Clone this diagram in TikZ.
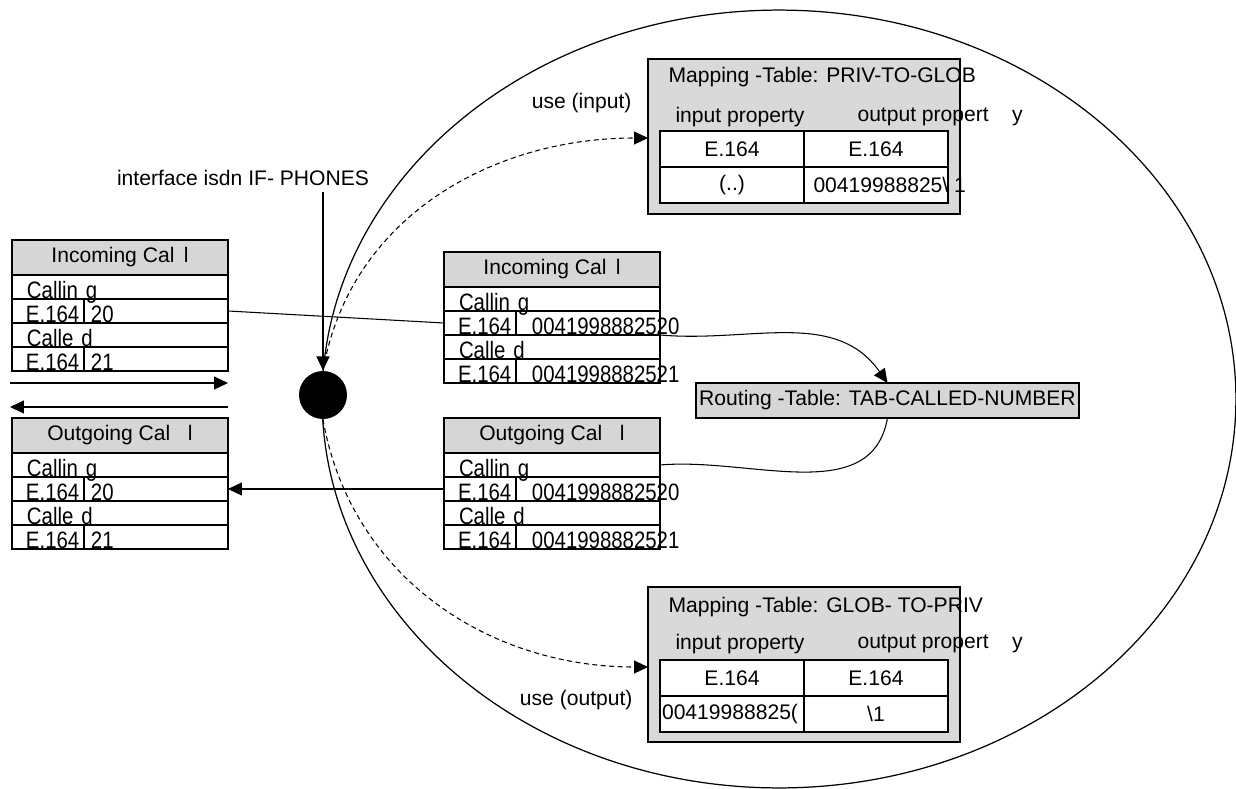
\documentclass[tikz,border=0pt]{standalone}
\usepackage{fontspec}
\setmainfont{Liberation Sans}
\newfontfamily\condfont[FakeStretch=0.86]{Liberation Sans}
\usetikzlibrary{arrows.meta, positioning, calc}

\tikzset{
  hdcell/.style={draw, fill=gray!32, line width=0.8pt, minimum width=4.32cm, minimum height=0.7cm,
    inner sep=0pt, outer sep=0pt},
  rowcell/.style={draw, line width=0.8pt, text width=3.72cm, inner xsep=0.3cm, inner ysep=0pt, outer sep=0pt,
    text height=0.48cm, text depth=0pt, align=left, font=\condfont\fontsize{13.5}{15}\selectfont},
  keycell/.style={rowcell, text width=0.88cm, inner xsep=0.28cm},
  valcell/.style={rowcell, text width=2.88cm, inner xsep=0pt},
  mapbox/.style={draw, fill=gray!30, line width=0.8pt, minimum width=6.24cm, minimum height=3.1cm,
    inner sep=0pt, outer sep=0pt},
  mapcell/.style={draw, fill=white, line width=0.8pt, minimum width=2.88cm, minimum height=0.72cm,
    inner sep=0pt, outer sep=0pt},
  arr/.style={-{Triangle[length=0.28cm, width=0.26cm]}},
  usearrow/.style={arr, dash pattern=on 0.1cm off 0.07cm}
}

% one call table: name, north west corner, title, calling no., called no., value indent
\newcommand{\calltable}[6]{%
  \node[hdcell, anchor=north west] (#1-hd) at #2 {#3};
  \node[rowcell, below=0pt of #1-hd] (#1-r1) {Callin g};
  \node[keycell, anchor=north west] (#1-k2) at (#1-r1.south west) {E.164};
  \node[valcell, right=0pt of #1-k2] (#1-v2) {\hspace*{#6}#4};
  \node[rowcell, anchor=north west] (#1-r3) at (#1-k2.south west) {Calle d};
  \node[keycell, anchor=north west] (#1-k4) at (#1-r3.south west) {E.164};
  \node[valcell, right=0pt of #1-k4] (#1-v4) {\hspace*{#6}#5};
}

\begin{document}
\begin{tikzpicture}[x=0.02cm, y=-0.02cm, font=\fontsize{12}{14}\selectfont, line width=0.6pt]
  \useasboundingbox (0,0) rectangle (1236,788);

  % interface area
  \draw[line width=0.7pt] (779,399) ellipse [x radius=9.14cm, y radius=7.78cm];

  \node (ifname) at (243,178) {interface isdn IF- PHONES};
  \node[circle, fill=black, minimum size=0.96cm, inner sep=0pt] (port) at (323,395) {};
  \draw[arr] (ifname.south -| port.north) -- (port.north);

  % calls on the line and after mapping
  \calltable{inL}{(12,240)}{Incoming Cal\ \,l}{20}{21}{0.14cm}
  \calltable{outL}{(12,418)}{Outgoing Cal\ \ \ l}{20}{21}{0.14cm}
  \calltable{inM}{(444,252)}{Incoming Cal\ \,l}{0041998882520}{0041998882521}{0.32cm}
  \calltable{outM}{(444,418)}{Outgoing Cal\ \ \ l}{0041998882520}{0041998882521}{0.32cm}

  \coordinate (dir-in-a) at (10,383);
  \coordinate (dir-in-b) at (228,383);
  \coordinate (dir-out-a) at (228,407);
  \coordinate (dir-out-b) at (10,407);
  \draw[arr] (dir-in-a) -- (dir-in-b);
  \draw[arr] (dir-out-a) -- (dir-out-b);

  \node[draw, fill=gray!32, line width=0.8pt, anchor=north west, minimum width=7.66cm, minimum height=0.7cm,
    inner xsep=1pt, outer sep=0pt] (route) at (696,383) {Routing -Table: TAB-CALLED-NUMBER};

  % mapping PRIV-TO-GLOB
  \node[mapbox, anchor=north west] (mapP) at (648,59) {};
  \node[anchor=west, inner xsep=0pt] (mapP-name) at (668,77) {Mapping -Table: PRIV-TO-GLOB};
  \node (mapP-inp) at (740,117) {input property};
  \node[anchor=west, inner xsep=0pt] (mapP-outp) at (857,117) {output propert\ \ \ \ y};
  \node[mapcell, anchor=north west] (mapP-k1) at (660,131) {E.164};
  \node[mapcell, right=0pt of mapP-k1] (mapP-v1) {E.164};
  \node[mapcell, below=0pt of mapP-k1] (mapP-k2) {(..)};
  \node[mapcell, below=0pt of mapP-v1] (mapP-v2) {};
  \node[anchor=west, inner xsep=0pt] (mapP-rule) at ([xshift=0.18cm]mapP-v2.west) {00419988825\textbackslash\ 1};
  \node[anchor=east, inner xsep=0pt] (useP) at (632,103) {use (input)};
  \coordinate (mapP-hook) at ($(mapP.north west)+(0,79)$);

  % mapping GLOB-TO-PRIV
  \node[mapbox, anchor=north west] (mapG) at (648,587) {};
  \node[anchor=west, inner xsep=0pt] (mapG-name) at (668,607) {Mapping -Table: GLOB- TO-PRIV};
  \node (mapG-inp) at (740,644) {input property};
  \node[anchor=west, inner xsep=0pt] (mapG-outp) at (857,644) {output propert\ \ \ \ y};
  \node[mapcell, anchor=north west] (mapG-k1) at (660,660) {E.164};
  \node[mapcell, right=0pt of mapG-k1] (mapG-v1) {E.164};
  \node[mapcell, below=0pt of mapG-k1] (mapG-k2) {};
  \node[anchor=west, inner xsep=0pt] (mapG-rule) at ([xshift=0.03cm]mapG-k2.west) {00419988825(};
  \node[mapcell, below=0pt of mapG-v1] (mapG-v2) {\textbackslash 1};
  \node[anchor=east, inner xsep=0pt] (useG) at (633,700) {use (output)};
  \coordinate (mapG-hook) at ($(mapG.north west)+(0,80)$);

  % call flow
  \draw (inL-v2.east) -- (inM-k2.west);
  \draw[arr] (inM-v2.south east) to[out=-5, in=125] (route.north);
  \draw (route.south) to[out=-100, in=5] (outM-r1.east);
  \draw[arr] (outM-k2.west) -- (outL-v2.east);
  \draw[usearrow] (port.north) to[out=80, in=180] (mapP-hook);
  \draw[usearrow] (port.south) to[out=-80, in=180] (mapG-hook);
\end{tikzpicture}
\end{document}
